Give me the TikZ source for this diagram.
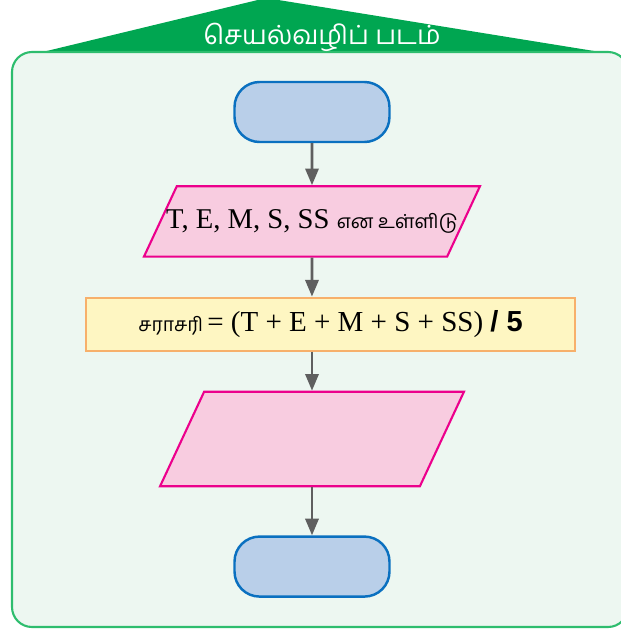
\documentclass[tikz,border=0pt]{standalone}
\usepackage{fontspec}
\setmainfont{Liberation Serif}
\newfontfamily\tamilfont[Script=Tamil]{Hind Madurai}
\newfontfamily\sansfont{Liberation Sans}
\usepackage{tikz}
\usetikzlibrary{shapes.geometric,arrows.meta,positioning}
\definecolor{roofgreen}{RGB}{0,166,81}
\definecolor{framegreen}{RGB}{46,189,110}
\definecolor{framefill}{RGB}{237,247,241}
\definecolor{termblue}{RGB}{10,112,192}
\definecolor{termfill}{RGB}{185,207,233}
\definecolor{iomagenta}{RGB}{236,0,140}
\definecolor{iofill}{RGB}{248,204,224}
\definecolor{procorange}{RGB}{247,176,107}
\definecolor{procfill}{RGB}{254,246,194}
\definecolor{arrowgray}{RGB}{95,95,95}

\begin{document}
\begin{tikzpicture}[x=0.02cm, y=-0.02cm,
  termbox/.style={draw=termblue, fill=termfill, line width=1.4pt,
                  rounded corners=0.5cm, minimum width=3.1cm, minimum height=1.2cm},
  iobox/.style={trapezium, trapezium left angle=65, trapezium right angle=115,
                draw=iomagenta, fill=iofill, line width=1.2pt, align=center},
  procbox/.style={draw=procorange, fill=procfill, line width=1.2pt,
                  minimum width=9.78cm, minimum height=1.06cm, align=center},
  arr/.style={-{Triangle[length=9.5pt,width=7.5pt]}, line width=1.6pt, draw=arrowgray},
  node distance=0.8cm
]
\useasboundingbox (0,0) rectangle (621,632);
\clip (0,0) rectangle (621,632);

%% Roof and frame
\fill[roofgreen] (26,56) -- (266,-2) -- (625,56) -- cycle;
\draw[draw=framegreen, fill=framefill, line width=1.2pt, rounded corners=0.4cm]
  (12,52) rectangle (628,627);
\node[text=white, font=\tamilfont\fontsize{15}{18}\selectfont] (title) at (322,37)
  {செயல்வழிப் படம்};

%% Start
\node[termbox] (start) at (312,112) {};

%% Input
\node[iobox, text height=12pt, text depth=4pt, inner ysep=12pt, inner xsep=-6pt,
      below=0.84cm of start] (input)
  {\fontsize{16.3}{20}\selectfont T, E, M, S, SS {\tamilfont\fontsize{11}{14}\selectfont என உள்ளிடு}};

%% Average
\node[procbox, below=0.78cm of input, xshift=0.37cm] (calc)
  {{\tamilfont\fontsize{11}{14}\selectfont சராசரி}
   {\fontsize{16.5}{20}\selectfont = (T + E + M + S + SS) {\sansfont\bfseries / 5}}};

%% Output
\node[iobox, inner ysep=26.9pt, inner xsep=61.4pt, below=0.78cm of calc, xshift=-0.37cm] (output) {};

%% Stop
\node[termbox, below=0.96cm of output] (stop) {};

%% Arrows
\draw[arr] (start) -- (input);
\draw[arr] (input) -- (input |- calc.north);
\draw[arr] (output |- calc.south) -- (output);
\draw[arr] (output) -- (stop);

\end{tikzpicture}
\end{document}
